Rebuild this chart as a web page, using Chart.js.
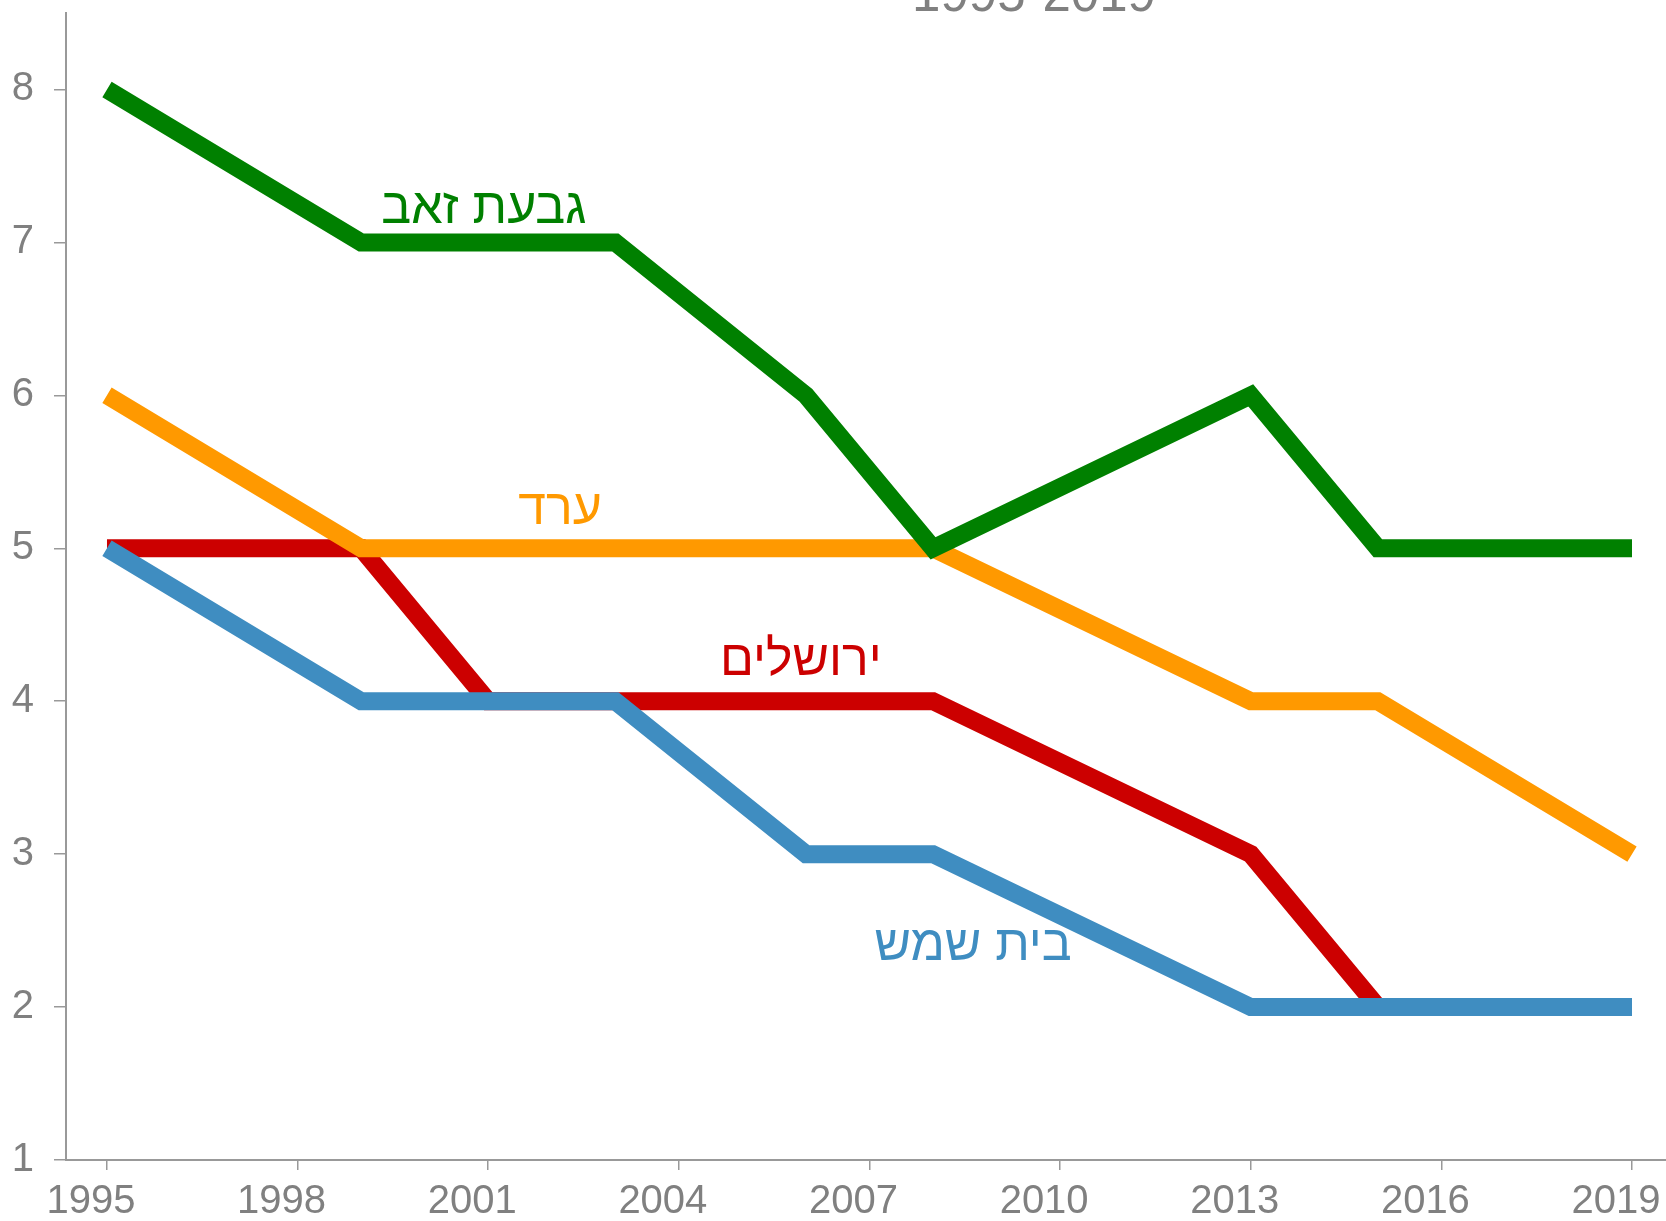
<!DOCTYPE html>
<html>
<head>
<meta charset="utf-8">
<script src="https://cdn.jsdelivr.net/npm/chart.js@4/dist/chart.umd.min.js"></script>
<style>
  html, body { margin: 0; padding: 0; background: #fff; }
  #wrap { width: 1666px; height: 1221px; position: relative; }
</style>
</head>
<body>
<div id="wrap"><canvas id="rankChart"></canvas></div>
<script>
/* ── 데이터 ── */
var years = [1995, 1999, 2001, 2003, 2006, 2008, 2013, 2015, 2019];
var givatZeev = [8, 7, 7, 7, 6, 5, 6, 5, 5];
var arad      = [6, 5, 5, 5, 5, 5, 4, 4, 3];
var beitShemesh = [5, 4, 4, 4, 3, 3, 2, 2, 2];
var jerusalem = [5, 5, 4, 4, 4, 4, 3, 2, 2];

var xTicks = [1995, 1998, 2001, 2004, 2007, 2010, 2013, 2016, 2019];
var yTicks = [1, 2, 3, 4, 5, 6, 7, 8];

var seriesNames = ['גבעת זאב', 'ערד', 'בית שמש', 'ירושלים'];
var seriesColors = ['#008000', '#ff9900', '#3f8dc1', '#cc0000'];
// 라벨 위치 (데이터 좌표)
var labelX = [2000.93, 2002.13, 2008.63, 2005.92];
var labelY = [7.22, 5.25, 2.40, 4.26];

var GRAY = '#808080';

function toPoints(vals) {
  return vals.map(function(v, i) { return { x: years[i], y: v }; });
}

/* ── 시리즈 라벨 + 제목 플러그인 ── */
var seriesLabels = {
  id: 'seriesLabels',
  afterDatasetsDraw: function(chart) {
    var ctx = chart.ctx;
    var xs = chart.scales.x, ys = chart.scales.y;
    ctx.save();
    ctx.font = '50px "Liberation Sans", Arial, sans-serif';
    ctx.textAlign = 'center';
    ctx.textBaseline = 'middle';
    seriesNames.forEach(function(name, i) {
      ctx.fillStyle = seriesColors[i];
      ctx.fillText(name, xs.getPixelForValue(labelX[i]), ys.getPixelForValue(labelY[i]));
    });
    // 잘린 제목
    ctx.font = '51px "Liberation Sans", Arial, sans-serif';
    ctx.fillStyle = GRAY;
    ctx.textBaseline = 'alphabetic';
    ctx.fillText('1995-2019', 1034, 11);
    ctx.restore();
  }
};

function makeDataset(i, vals) {
  return {
    label: seriesNames[i],
    data: toPoints(vals),
    borderColor: seriesColors[i],
    backgroundColor: seriesColors[i],
    borderWidth: 18,
    tension: 0,
    pointRadius: 0,
    borderJoinStyle: 'miter',
    borderCapStyle: 'butt',
    fill: false
  };
}

new Chart(document.getElementById('rankChart').getContext('2d'), {
  type: 'line',
  data: {
    datasets: [
      makeDataset(0, givatZeev),
      makeDataset(1, arad),
      makeDataset(2, beitShemesh),
      makeDataset(3, jerusalem)
    ]
  },
  options: {
    responsive: true,
    maintainAspectRatio: false,
    animation: false,
    layout: { padding: { top: 13, right: 0, left: 0, bottom: 0 } },
    plugins: {
      legend: { display: false },
      tooltip: { enabled: false },
      title: { display: false }
    },
    scales: {
      x: {
        type: 'linear',
        min: 1994.355,
        max: 2019.535,
        afterBuildTicks: function(s) { s.ticks = xTicks.map(function(v) { return { value: v }; }); },
        afterFit: function(s) { s.height = 61; s.paddingLeft = 0; s.paddingRight = 0; },
        grid: { drawOnChartArea: false, drawTicks: true, tickLength: 10, color: '#999999', lineWidth: 1.5 },
        border: { display: true, color: '#999999', width: 2 },
        ticks: {
          color: GRAY,
          padding: 8,
          labelOffset: -16,
          maxRotation: 0,
          autoSkip: false,
          font: { family: '"Liberation Sans", Arial, sans-serif', size: 40 },
          callback: function(v) { return String(v); }
        }
      },
      y: {
        min: 1,
        max: 8.5,
        afterBuildTicks: function(s) { s.ticks = yTicks.map(function(v) { return { value: v }; }); },
        afterFit: function(s) { s.width = 66; s.paddingTop = 0; s.paddingBottom = 0; },
        grid: { drawOnChartArea: false, drawTicks: true, tickLength: 12, color: '#999999', lineWidth: 1.5 },
        border: { display: true, color: '#999999', width: 2 },
        ticks: {
          color: GRAY,
          padding: 20,
          font: { family: '"Liberation Sans", Arial, sans-serif', size: 40 }
        }
      }
    }
  },
  plugins: [seriesLabels]
});
</script>
</body>
</html>
